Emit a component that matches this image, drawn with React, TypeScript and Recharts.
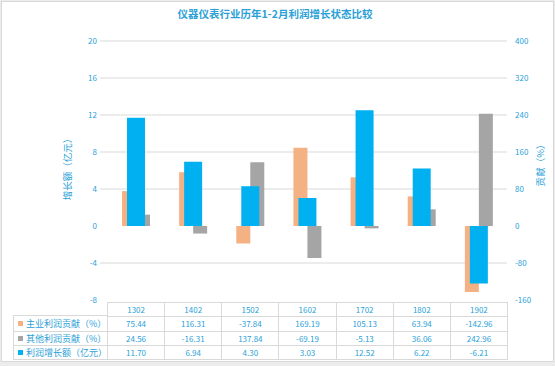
import React from 'react';
import { ComposedChart, Bar, XAxis, YAxis, CartesianGrid } from 'recharts';

const years = ['1302', '1402', '1502', '1602', '1702', '1802', '1902'];
const mainShare = [75.44, 116.31, -37.84, 169.19, 105.13, 63.94, -142.96];
const otherShare = [24.56, -16.31, 137.84, -69.19, -5.13, 36.06, 242.96];
const profitGrowth = [11.7, 6.94, 4.3, 3.03, 12.52, 6.22, -6.21];

const leftTicks = [-8, -4, 0, 4, 8, 12, 16, 20];
const rightTicks = [-160, -80, 0, 80, 160, 240, 320, 400];

const seriesNames = ['主业利润贡献（%）', '其他利润贡献（%）', '利润增长额（亿元）'];

const ORANGE = '#F4B183';
const GRAY = '#A5A5A5';
const BLUE = '#00B0F0';
const TEXT = '#2a9fd8';
const GRID = '#d9d9d9';
const FONT = '"Noto Sans CJK SC", "Noto Sans", sans-serif';

const data = years.map((y, i) => ({
  year: y,
  main: mainShare[i],
  other: otherShare[i],
  growth: profitGrowth[i],
}));

const PLOT_LEFT = 107;

function LeftTick(props: any) {
  const { x, y, payload } = props;
  const v = payload.value;
  return (
    <g>
      {v !== 0 && v !== -8 && (
        <line x1={PLOT_LEFT - 7} x2={PLOT_LEFT} y1={y} y2={y} stroke={GRID} strokeWidth={1} />
      )}
      <text x={x} y={y} dy={3} textAnchor="end" fill={TEXT} fontSize={8} fontFamily={FONT}>
        {v}
      </text>
    </g>
  );
}

export default function App() {
  const cell: React.CSSProperties = {
    borderLeft: `1px solid ${GRID}`,
    borderTop: `1px solid ${GRID}`,
    boxSizing: 'border-box',
    display: 'flex',
    alignItems: 'center',
    justifyContent: 'center',
    color: TEXT,
    fontSize: 8,
    whiteSpace: 'nowrap',
  };
  const rows = [
    { name: seriesNames[0], color: ORANGE, values: mainShare },
    { name: seriesNames[1], color: GRAY, values: otherShare },
    { name: seriesNames[2], color: BLUE, values: profitGrowth },
  ];

  return (
    <div style={{ position: 'absolute', left: 0, top: 0, width: 555, height: 366, background: '#ececec', fontFamily: FONT }}>
      <div style={{ position: 'absolute', left: 1, top: 1, width: 551, height: 359, background: '#fff', border: `1px solid ${GRID}` }} />

      <span style={{ position: 'absolute', left: 275, top: 6, transform: 'translateX(-50%)', whiteSpace: 'nowrap', color: TEXT, fontSize: 10.5, fontWeight: 'bold' }}>
        仪器仪表行业历年1-2月利润增长状态比较
      </span>

      <div style={{ position: 'absolute', left: 0, top: 0 }}>
        <ComposedChart
          width={555}
          height={310}
          data={data}
          margin={{ top: 41, right: 0, bottom: 10, left: 0 }}
          barGap={0}
        >
          <CartesianGrid
            xAxisId="a"
            yAxisId="left"
            vertical={false}
            stroke={GRID}
            horizontalValues={[-4, 4, 8, 12, 16, 20]}
          />
          <XAxis xAxisId="a" dataKey="year" hide />
          <XAxis xAxisId="b" dataKey="year" hide />
          <YAxis
            yAxisId="left"
            domain={[-8, 20]}
            ticks={leftTicks}
            width={107}
            axisLine={false}
            tickLine={false}
            tickSize={0}
            tickMargin={10}
            tick={<LeftTick />}
            interval={0}
          />
          <YAxis
            yAxisId="right"
            orientation="right"
            domain={[-160, 400]}
            ticks={rightTicks}
            width={48}
            axisLine={false}
            tickLine={false}
            tickSize={0}
            tickMargin={8}
            interval={0}
            tick={{ fill: TEXT, fontSize: 8, fontFamily: FONT }}
          />
          <Bar xAxisId="b" yAxisId="right" dataKey="main" fill={ORANGE} barSize={14} isAnimationActive={false} />
          <Bar xAxisId="b" yAxisId="right" dataKey="other" fill={GRAY} barSize={14} isAnimationActive={false} />
          <Bar xAxisId="a" yAxisId="left" dataKey="growth" fill={BLUE} barSize={18} isAnimationActive={false} />
        </ComposedChart>
      </div>

      <div style={{ position: 'absolute', left: 67, top: 167, transform: 'translate(-50%, -50%) rotate(-90deg)', whiteSpace: 'nowrap', color: TEXT, fontSize: 9.5 }}>
        增长额（亿元）
      </div>
      <div style={{ position: 'absolute', left: 540, top: 163, transform: 'translate(-50%, -50%) rotate(-90deg)', whiteSpace: 'nowrap', color: TEXT, fontSize: 9.5 }}>
        贡献（%）
      </div>

      <div
        style={{
          position: 'absolute',
          left: 13,
          top: 302,
          width: 495,
          display: 'grid',
          gridTemplateColumns: '94px repeat(7, 1fr)',
          gridAutoRows: '14.25px',
          borderRight: `1px solid ${GRID}`,
          borderBottom: `1px solid ${GRID}`,
          boxSizing: 'border-box',
        }}
      >
        <div style={{ ...cell, borderLeft: 'none', borderTop: 'none', borderBottom: `1px solid ${GRID}` }} />
        {years.map((y) => (
          <div key={y} style={cell}>{y}</div>
        ))}
        {rows.map((r, ri) => (
          <React.Fragment key={r.name}>
            <div style={{ ...cell, justifyContent: 'flex-start', fontSize: 9, borderTop: ri === 0 ? 'none' : cell.borderTop }}>
              <span style={{ display: 'inline-block', width: 5, height: 5, background: r.color, margin: '0 3px 0 4px', flex: 'none' }} />
              {r.name}
            </div>
            {r.values.map((v, i) => (
              <div key={i} style={cell}>{v.toFixed(2)}</div>
            ))}
          </React.Fragment>
        ))}
      </div>
    </div>
  );
}
